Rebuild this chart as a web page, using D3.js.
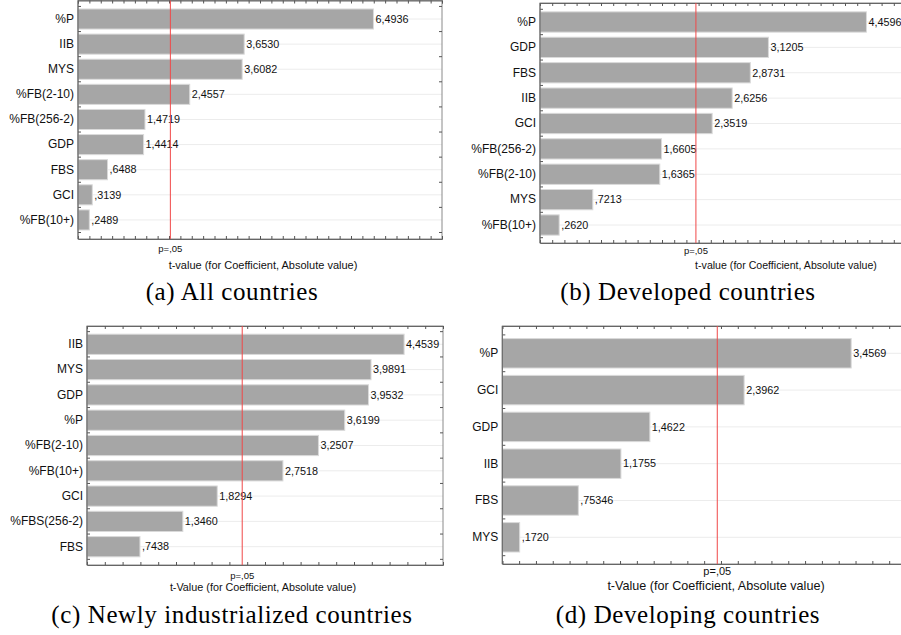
<!DOCTYPE html>
<html>
<head>
<meta charset="utf-8">
<script src="https://cdn.jsdelivr.net/npm/d3@7"></script>
<style>
  html, body { margin: 0; padding: 0; background: #fff; }
  svg { display: block; }
</style>
</head>
<body>
<svg id="chart" width="901" height="635"></svg>
<script>
// (a) All countries
const varsA = ["%P", "IIB", "MYS", "%FB(2-10)", "%FB(256-2)", "GDP", "FBS", "GCI", "%FB(10+)"];
const tA = [6.4936, 3.6530, 3.6082, 2.4557, 1.4719, 1.4414, 0.6488, 0.3139, 0.2489];
// (b) Developed countries
const varsB = ["%P", "GDP", "FBS", "IIB", "GCI", "%FB(256-2)", "%FB(2-10)", "MYS", "%FB(10+)"];
const tB = [4.4596, 3.1205, 2.8731, 2.6256, 2.3519, 1.6605, 1.6365, 0.7213, 0.2620];
// (c) Newly industrialized countries
const varsC = ["IIB", "MYS", "GDP", "%P", "%FB(2-10)", "%FB(10+)", "GCI", "%FBS(256-2)", "FBS"];
const tC = [4.4539, 3.9891, 3.9532, 3.6199, 3.2507, 2.7518, 1.8294, 1.3460, 0.7438];
// (d) Developing countries
const varsD = ["%P", "GCI", "GDP", "IIB", "FBS", "MYS"];
const tD = [3.4569, 2.3962, 1.4622, 1.1755, 0.75346, 0.1720];
// critical t (p=.05) per panel
const critT = [2.03, 2.13, 2.18, 2.13];

const captions = ["(a) All countries", "(b) Developed countries",
  "(c) Newly industrialized countries", "(d) Developing countries"];
const axisTitles = ["t-value (for Coefficient, Absolute value)",
  "t-value (for Coefficient, Absolute value)",
  "t-Value (for Coefficient, Absolute value)",
  "t-Value (for Coefficient, Absolute value)"];

// statistica style: comma decimal, no leading zero
const fmt = (v) => {
  const dec = Math.max(4, (String(v).split(".")[1] || "").length);
  return v.toFixed(dec).replace(/^0\./, ",").replace(".", ",");
};

const panels = [
  { vars: varsA, vals: tA, x0: 78, x1: 442, y0: 0.5, y1: 239, band: [6.45, 232.5], max: 8, step: 0.25,
    pY: 252, pSize: 9.5, tX: 263, tY: 269, tSize: 11, capX: 232, capY: 300 },
  { vars: varsB, vals: tB, x0: 540, x1: 906, y0: 3, y1: 243, band: [9.3, 237.7], max: 5, step: 1 / 6,
    pY: 254, pSize: 9.5, tX: 786, tY: 269, tSize: 10.6, capX: 688, capY: 300 },
  { vars: varsC, vals: tC, x0: 87, x1: 443, y0: 326, y1: 565, band: [331.65, 559.35], max: 5, step: 0.25,
    pY: 579, pSize: 9.5, tX: 263, tY: 591, tSize: 10.8, capX: 232, capY: 623 },
  { vars: varsD, vals: tD, x0: 502.3, x1: 906, y0: 326, y1: 564, band: [334.9, 555.7], max: 4, step: 1 / 6,
    pY: 575, pSize: 11, tX: 716, tY: 590, tSize: 12.6, capX: 688, capY: 623 }
];

const svg = d3.select("#chart");
const sans = "Liberation Sans, Arial, sans-serif";

panels.forEach((p, i) => {
  const g = svg.append("g");
  const x = d3.scaleLinear().domain([0, p.max]).range([p.x0, p.x1]);
  const y = d3.scaleBand().domain(p.vars).range(p.band).paddingInner(0.2).paddingOuter(0.1);
  const data = p.vars.map((v, k) => ({ name: v, t: p.vals[k] }));

  // background grid lines at bar centres
  g.selectAll("line.grid").data(data).join("line")
    .attr("x1", p.x0).attr("x2", p.x1)
    .attr("y1", (d) => y(d.name) + y.bandwidth() / 2)
    .attr("y2", (d) => y(d.name) + y.bandwidth() / 2)
    .attr("stroke", "#ececec");

  // bars
  g.selectAll("rect.bar").data(data).join("rect")
    .attr("x", x(0))
    .attr("y", (d) => y(d.name))
    .attr("width", (d) => x(d.t) - x(0))
    .attr("height", y.bandwidth())
    .attr("fill", "#a6a6a6")
    .attr("stroke", "#dadada")
    .attr("stroke-width", 1);

  // value labels
  g.selectAll("text.val").data(data).join("text")
    .attr("x", (d) => x(d.t) + 2)
    .attr("y", (d) => y(d.name) + y.bandwidth() / 2)
    .attr("dy", "0.35em")
    .attr("font-family", sans)
    .attr("font-size", 10.8)
    .attr("fill", "#111")
    .text((d) => fmt(d.t));

  // frame
  g.append("rect")
    .attr("x", p.x0).attr("y", p.y0)
    .attr("width", p.x1 - p.x0).attr("height", p.y1 - p.y0)
    .attr("fill", "none").attr("stroke", "#8a8a8a");

  // minor ticks, bottom and top, pointing inwards
  const tv = d3.range(0, p.max + 1e-6, p.step);
  const bottom = g.append("g").attr("transform", `translate(0,${p.y1})`)
    .call(d3.axisBottom(x).tickValues(tv).tickSize(-3).tickFormat(""));
  const top = g.append("g").attr("transform", `translate(0,${p.y0})`)
    .call(d3.axisTop(x).tickValues(tv).tickSize(-3).tickFormat(""));
  [bottom, top].forEach((a) => {
    a.select(".domain").attr("stroke", "#666");
    a.selectAll(".tick line").attr("stroke", "#555");
  });

  // ticks between bars on left and right side
  const bounds = p.vars.slice(1).map((v) => y(v) - (y.step() - y.bandwidth()) / 2);
  bounds.push(...[p.band[0], p.band[1]]);
  [[p.x0, 3], [p.x1, -3]].forEach(([xx, len]) => {
    g.selectAll(null).data(bounds).join("line")
      .attr("x1", xx).attr("x2", xx + len)
      .attr("y1", (d) => d).attr("y2", (d) => d)
      .attr("stroke", "#555");
  });

  // category labels
  const left = g.append("g").attr("transform", `translate(${p.x0},0)`)
    .call(d3.axisLeft(y).tickSize(0).tickPadding(4));
  left.select(".domain").attr("stroke", "#666").attr("d", `M0,${p.y0}V${p.y1}`);
  left.selectAll("text").attr("font-family", sans).attr("font-size", 12).attr("fill", "#111");

  // p = .05 line
  g.append("line")
    .attr("x1", x(critT[i])).attr("x2", x(critT[i]))
    .attr("y1", p.y0).attr("y2", p.y1)
    .attr("stroke", "#f04848").attr("stroke-width", 1);
  g.append("text")
    .attr("x", x(critT[i])).attr("y", p.pY)
    .attr("text-anchor", "middle")
    .attr("font-family", sans).attr("font-size", p.pSize).attr("fill", "#111")
    .text("p=,05");

  // axis title
  g.append("text")
    .attr("x", p.tX).attr("y", p.tY)
    .attr("text-anchor", "middle")
    .attr("font-family", sans).attr("font-size", p.tSize).attr("fill", "#111")
    .text(axisTitles[i]);

  // sub-figure caption
  svg.append("text")
    .attr("x", p.capX).attr("y", p.capY)
    .attr("text-anchor", "middle")
    .attr("font-family", "Liberation Serif, Times New Roman, serif")
    .attr("font-size", 25)
    .attr("letter-spacing", 0.6)
    .attr("fill", "#000")
    .text(captions[i]);
});
</script>
</body>
</html>
